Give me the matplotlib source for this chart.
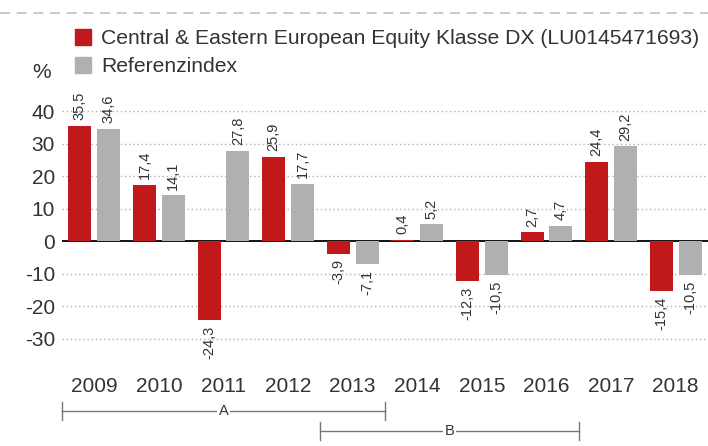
import matplotlib.pyplot as plt
import matplotlib.transforms as mtransforms
from matplotlib.patches import Patch
import numpy as np

plt.rcParams['font.family'] = ['Liberation Sans', 'DejaVu Sans']

# data
years = ['2009', '2010', '2011', '2012', '2013', '2014', '2015', '2016', '2017', '2018']
fund = [35.5, 17.4, -24.3, 25.9, -3.9, 0.4, -12.3, 2.7, 24.4, -15.4]
index = [34.6, 14.1, 27.8, 17.7, -7.1, 5.2, -10.5, 4.7, 29.2, -10.5]
fund_name = 'Central & Eastern European Equity Klasse DX (LU0145471693)'
index_name = 'Referenzindex'
yticks = [-30, -20, -10, 0, 10, 20, 30, 40]
# periods (first year index, last year index, label)
periods = [(0, 4, 'A'), (4, 7, 'B')]

RED = '#c1191b'
GREY = '#afb0b2'
TXT = '#333333'

fig = plt.figure(figsize=(7.08, 4.46), dpi=100)
W, H = 708, 446
# axes placement in pixels
left, right, top, bottom = 62, 708, 95, 354.75
ax = fig.add_axes([left / W, 1 - bottom / H, (right - left) / W, (bottom - top) / H])

x = np.arange(len(years))
off = 0.224
bw = 0.356
b1 = ax.bar(x - off, fund, bw, color=RED, zorder=5)
b2 = ax.bar(x + off, index, bw, color=GREY, zorder=5)

# value labels
for bars, vals in ((b1, fund), (b2, index)):
    for rect, v in zip(bars, vals):
        cx = rect.get_x() + rect.get_width() / 2
        lbl = ('%.1f' % v).replace('.', ',')
        if v >= 0:
            ax.annotate(lbl, (cx, v), xytext=(0, 4), textcoords='offset points',
                        rotation=90, ha='center', va='bottom', fontsize=10.5, color=TXT)
        else:
            ax.annotate(lbl, (cx, v), xytext=(0, -4), textcoords='offset points',
                        rotation=90, ha='center', va='top', fontsize=10.5, color=TXT)

ax.set_xlim(-0.5, len(years) - 0.5)
ax.set_ylim(-35, 45)
ax.set_yticks(yticks)
ax.set_yticklabels([str(t) for t in yticks], fontsize=15, color=TXT)
ax.set_xticks(x)
ax.set_xticklabels(years, fontsize=15, color=TXT)
ax.tick_params(axis='both', length=0)
ax.tick_params(axis='y', pad=5)
ax.tick_params(axis='x', pad=16)
for s in ax.spines.values():
    s.set_visible(False)
for t in yticks:
    if t == 0:
        ax.axhline(0, color='black', lw=1.3, zorder=4)
    else:
        ax.axhline(t, color='#b0b0b0', lw=1, ls=(0, (1, 2)), zorder=1)

# period brackets below the axis
tr = mtransforms.blended_transform_factory(ax.transData, fig.transFigure)
for i, (a, b, name) in enumerate(periods):
    x0, x1 = a - 0.5, b + 0.5
    yl = 1 - (411 + 20 * i) / H
    dy = 9 / H
    ax.plot([x0, x1], [yl, yl], color='#777777', lw=1, transform=tr, clip_on=False)
    ax.plot([x0, x0], [yl - dy, yl + dy], color='#777777', lw=1, transform=tr, clip_on=False)
    ax.plot([x1, x1], [yl - dy, yl + dy], color='#777777', lw=1, transform=tr, clip_on=False)
    ax.text((x0 + x1) / 2, yl, name, transform=tr, ha='center', va='center', fontsize=10.5,
            color=TXT, bbox=dict(facecolor='white', edgecolor='none', pad=1))

# top dashed rule
fig.add_artist(plt.Line2D([0, 1], [1 - 13 / H, 1 - 13 / H], color='#c0c0c0', lw=1.2,
                          ls=(0, (6, 4))))

# legend
handles = [Patch(color=RED), Patch(color=GREY)]
fig.legend(handles, [fund_name, index_name], loc='upper left',
           bbox_to_anchor=(75 / W, 1 - 29 / H), frameon=False, fontsize=15.2,
           handlelength=0.78, handleheight=0.78, handletextpad=0.45,
           borderpad=0, borderaxespad=0, labelspacing=0.42, labelcolor=TXT)
fig.text(42 / W, 1 - 72 / H, '%', ha='center', va='center', fontsize=15, color=TXT)

fig.savefig('out.png', dpi=100)
